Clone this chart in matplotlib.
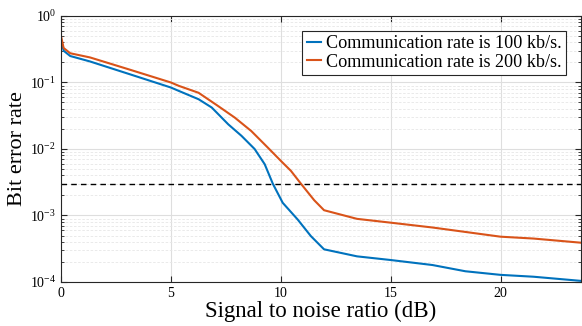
import numpy as np
import matplotlib
matplotlib.use('Agg')
import matplotlib.pyplot as plt
from matplotlib.ticker import LogLocator, NullFormatter

plt.rcParams['font.family'] = ['Liberation Serif', 'DejaVu Serif']
plt.rcParams['mathtext.fontset'] = 'stix'

# === Data ===
snr_100 = [0.0, 0.12, 0.42, 1.32, 3.1, 5.0, 5.36, 6.26, 6.86, 7.61, 8.21, 8.81,
           9.27, 9.64, 10.09, 10.77, 11.37, 11.97, 13.47, 15.0, 16.9, 18.4,
           20.0, 21.5, 23.65]
ber_100 = [0.45, 0.30, 0.25, 0.207, 0.134, 0.084, 0.0747, 0.056, 0.042, 0.0235,
           0.0158, 0.010, 0.0059, 0.003, 0.00155, 0.00087, 0.00049, 0.00031,
           0.000243, 0.000214, 0.00018, 0.000145, 0.000128, 0.00012, 0.000104]
snr_200 = [0.0, 0.12, 0.42, 1.32, 3.1, 5.0, 5.36, 6.26, 7.16, 7.91, 8.66, 9.41,
           10.01, 10.46, 10.92, 11.52, 11.97, 13.47, 15.0, 16.9, 20.0, 21.5,
           23.65]
ber_200 = [0.5, 0.33, 0.275, 0.238, 0.157, 0.1, 0.089, 0.07, 0.044, 0.0296,
           0.0186, 0.0105, 0.0066, 0.0047, 0.003, 0.0017, 0.0012, 0.00089,
           0.00078, 0.00066, 0.00048, 0.00045, 0.00039]
threshold = 3e-3
labels = ['Communication rate is 100 kb/s.', 'Communication rate is 200 kb/s.']

blue = (0, 0.447, 0.741)
orange = (0.85, 0.325, 0.098)
axcol = (0.15, 0.15, 0.15)

fig = plt.figure(figsize=(5.82, 3.26), dpi=100)
ax = fig.add_axes([0.1048, 0.135, 0.893, 0.816])

ax.semilogy(snr_100, ber_100, color=blue, lw=1.5, label=labels[0])
ax.semilogy(snr_200, ber_200, color=orange, lw=1.5, label=labels[1])
ax.axhline(threshold, color='black', ls=(0, (4, 3)), lw=1.0)

ax.set_xlim(0, 23.65)
ax.set_ylim(1e-4, 1)
ax.set_xticks([0, 5, 10, 15, 20])
ax.yaxis.set_major_locator(LogLocator(base=10, numticks=10))
ax.yaxis.set_minor_locator(LogLocator(base=10, subs=np.arange(2, 10), numticks=20))
ax.yaxis.set_minor_formatter(NullFormatter())

ax.grid(True, which='major', color=(0.87, 0.87, 0.87), lw=0.8)
ax.grid(True, which='minor', axis='y', color=(0.9, 0.9, 0.9), lw=0.6, ls=(0, (3, 2)))
ax.set_axisbelow(True)

ax.tick_params(which='both', direction='in', top=True, right=True, colors=axcol,
               labelcolor='black', labelsize=10)
ax.tick_params(which='major', length=4)
ax.tick_params(which='minor', length=2.5)
for s in ax.spines.values():
    s.set_color(axcol)
    s.set_linewidth(0.8)

ax.set_xlabel('Signal to noise ratio (dB)', fontsize=16.5, labelpad=1)
ax.set_ylabel('Bit error rate', fontsize=16, labelpad=2)

leg = ax.legend(loc='upper right', fontsize=13.1, fancybox=False, framealpha=1,
                edgecolor=axcol, handlelength=0.8, handletextpad=0.25,
                borderpad=0.25, labelspacing=0.08, borderaxespad=0.8)
leg.get_frame().set_linewidth(0.8)

fig.savefig('out.png', dpi=100)
